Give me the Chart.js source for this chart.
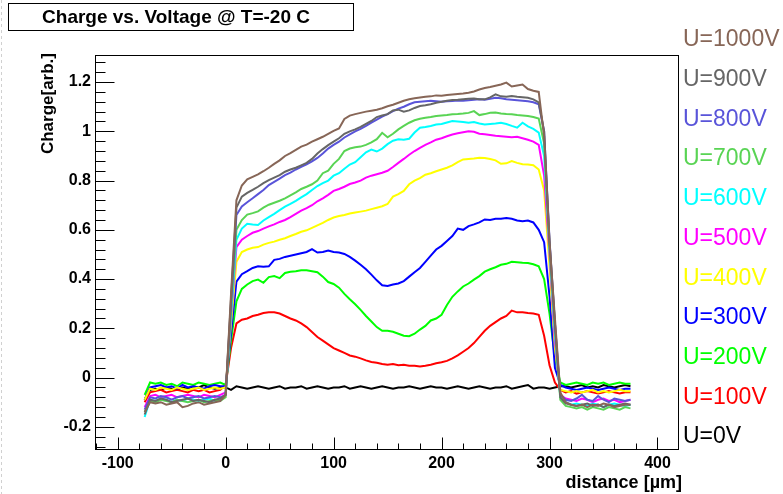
<!DOCTYPE html>
<html>
<head>
<meta charset="utf-8">
<title>Charge vs. Voltage</title>
<script src="https://cdn.jsdelivr.net/npm/chart.js@4.4.1/dist/chart.umd.min.js"></script>
<style>
  html, body { margin: 0; padding: 0; background: #fff; }
  #wrap { position: relative; width: 783px; height: 494px; }
</style>
</head>
<body>
<div id="wrap"><canvas id="cv"></canvas></div>
<script>
// -----------------------------------------------------------------------------
// DATA: charge profiles vs. distance, one series per bias voltage
// -----------------------------------------------------------------------------
const distance = [
  -75, -70, -65, -60, -55, -50, -45, -40, -35, -30,
  -25, -20, -15, -10, -5, 0, 5, 10, 15, 20,
  25, 30, 35, 40, 45, 50, 55, 60, 65, 70,
  75, 80, 85, 90, 95, 100, 105, 110, 115, 120,
  125, 130, 135, 140, 145, 150, 155, 160, 165, 170,
  175, 180, 185, 190, 195, 200, 205, 210, 215, 220,
  225, 230, 235, 240, 245, 250, 255, 260, 265, 270,
  275, 280, 285, 290, 295, 300, 305, 310, 315, 320,
  325, 330, 335, 340, 345, 350, 355, 360, 365, 370,
  375
];

const voltageLabels = ['U=0V', 'U=100V', 'U=200V', 'U=300V', 'U=400V', 'U=500V',
                       'U=600V', 'U=700V', 'U=800V', 'U=900V', 'U=1000V'];

const lineColors = ['#000000', '#ff0000', '#00ff00', '#0000ff', '#ffff00', '#ff00ff',
                    '#00ffff', '#59d454', '#5954d9', '#666666', '#876657'];

const charge0V = [
  -0.09, -0.05, -0.045, -0.05, -0.04, -0.045, -0.05, -0.04, -0.045, -0.035,
  -0.04, -0.03, -0.04, -0.045, -0.04, -0.04, -0.05, -0.035, -0.04, -0.045,
  -0.04, -0.035, -0.04, -0.045, -0.04, -0.035, -0.045, -0.04, -0.04, -0.035,
  -0.045, -0.04, -0.035, -0.04, -0.045, -0.04, -0.04, -0.035, -0.045, -0.04,
  -0.035, -0.04, -0.045, -0.04, -0.035, -0.04, -0.045, -0.04, -0.04, -0.035,
  -0.04, -0.045, -0.04, -0.035, -0.04, -0.04, -0.045, -0.04, -0.035, -0.04,
  -0.045, -0.04, -0.035, -0.04, -0.045, -0.04, -0.04, -0.035, -0.045, -0.04,
  -0.035, -0.03, -0.045, -0.04, -0.04, -0.045, -0.04, -0.035, -0.035, -0.04,
  -0.035, -0.03, -0.04, -0.035, -0.04, -0.03, -0.035, -0.04, -0.035, -0.03,
  -0.035
];

const charge100V = [
  -0.1, -0.06, -0.055, -0.05, -0.06, -0.055, -0.05, -0.055, -0.06, -0.05,
  -0.055, -0.05, -0.06, -0.055, -0.05, -0.03, 0.12, 0.22, 0.235, 0.24,
  0.25, 0.255, 0.262, 0.265, 0.265, 0.26, 0.25, 0.24, 0.232, 0.22,
  0.205, 0.185, 0.165, 0.15, 0.135, 0.12, 0.11, 0.1, 0.09, 0.085,
  0.078, 0.07, 0.063, 0.06, 0.055, 0.052, 0.055, 0.05, 0.052, 0.048,
  0.048, 0.045, 0.048, 0.052, 0.058, 0.062, 0.068, 0.078, 0.09, 0.105,
  0.12, 0.14, 0.165, 0.19, 0.21, 0.225, 0.24, 0.25, 0.272, 0.265,
  0.265, 0.262, 0.26, 0.255, 0.17, 0.05, -0.02, -0.05, -0.06, -0.055,
  -0.065, -0.06, -0.055, -0.06, -0.065, -0.06, -0.055, -0.06, -0.065, -0.06,
  -0.06
];

const charge200V = [
  -0.07, -0.02, -0.025, -0.02, -0.03, -0.025, -0.035, -0.02, -0.025, -0.03,
  -0.02, -0.025, -0.03, -0.025, -0.02, -0.03, 0.15, 0.31, 0.36, 0.378,
  0.392, 0.398, 0.385, 0.408, 0.412, 0.404, 0.425, 0.43, 0.432, 0.436,
  0.436, 0.432, 0.428, 0.41, 0.388, 0.38, 0.365, 0.34, 0.318, 0.298,
  0.275, 0.25, 0.228, 0.205, 0.19, 0.19, 0.186, 0.178, 0.17, 0.168,
  0.178, 0.195, 0.21, 0.232, 0.24, 0.255, 0.295, 0.328, 0.35, 0.37,
  0.382, 0.398, 0.412, 0.43, 0.44, 0.448, 0.458, 0.462, 0.47, 0.468,
  0.466, 0.465, 0.46, 0.452, 0.4, 0.26, 0.08, -0.02, -0.03, -0.025,
  -0.02, -0.025, -0.03, -0.02, -0.025, -0.02, -0.03, -0.025, -0.02, -0.025,
  -0.025
];

const charge300V = [
  -0.09, -0.04, -0.035, -0.03, -0.04, -0.035, -0.045, -0.03, -0.04, -0.035,
  -0.04, -0.045, -0.035, -0.03, -0.035, -0.035, 0.18, 0.39, 0.42, 0.432,
  0.445, 0.452, 0.45, 0.452, 0.478, 0.482, 0.49, 0.495, 0.5, 0.505,
  0.51, 0.522, 0.508, 0.51, 0.516, 0.51, 0.508, 0.502, 0.49, 0.475,
  0.458, 0.44, 0.418, 0.395, 0.375, 0.372, 0.378, 0.382, 0.392, 0.41,
  0.428, 0.445, 0.47, 0.495, 0.52, 0.535, 0.555, 0.575, 0.605, 0.6,
  0.615, 0.622, 0.63, 0.642, 0.64, 0.645, 0.645, 0.648, 0.645, 0.638,
  0.635, 0.638, 0.63, 0.6, 0.55, 0.33, 0.04, -0.03, -0.04, -0.045,
  -0.05, -0.045, -0.04, -0.045, -0.05, -0.045, -0.04, -0.045, -0.05, -0.045,
  -0.045
];

const charge400V = [
  -0.09, -0.045, -0.05, -0.04, -0.045, -0.05, -0.04, -0.045, -0.05, -0.045,
  -0.04, -0.05, -0.045, -0.04, -0.045, -0.04, 0.22, 0.47, 0.51, 0.52,
  0.527, 0.53, 0.54, 0.547, 0.552, 0.56, 0.566, 0.575, 0.583, 0.592,
  0.598, 0.608, 0.618, 0.628, 0.64, 0.65, 0.656, 0.66, 0.666, 0.67,
  0.674, 0.678, 0.684, 0.69, 0.696, 0.705, 0.735, 0.745, 0.758, 0.785,
  0.8, 0.81, 0.824, 0.83, 0.838, 0.845, 0.852, 0.862, 0.875, 0.886,
  0.888, 0.89, 0.893, 0.892, 0.888, 0.882, 0.868, 0.87, 0.879, 0.872,
  0.866, 0.865, 0.862, 0.845, 0.76, 0.45, 0.12, -0.05, -0.055, -0.06,
  -0.055, -0.06, -0.055, -0.05, -0.06, -0.055, -0.06, -0.055, -0.05, -0.055,
  -0.055
];

const charge500V = [
  -0.12, -0.075, -0.07, -0.08, -0.075, -0.07, -0.08, -0.075, -0.07, -0.075,
  -0.08, -0.07, -0.075, -0.08, -0.07, -0.06, 0.25, 0.53, 0.56, 0.575,
  0.588, 0.595, 0.605, 0.614, 0.622, 0.632, 0.64, 0.652, 0.665, 0.678,
  0.688, 0.7, 0.716, 0.728, 0.742, 0.758, 0.766, 0.775, 0.786, 0.792,
  0.8, 0.812, 0.82, 0.826, 0.832, 0.84, 0.855, 0.872, 0.888, 0.905,
  0.92, 0.933, 0.945, 0.955, 0.966, 0.972, 0.98, 0.987, 0.992, 0.996,
  1.0, 0.998, 0.99, 0.988, 0.985, 0.982, 0.98, 0.978, 0.976, 0.978,
  0.972, 0.966, 0.958, 0.945, 0.82, 0.5, 0.15, -0.07, -0.085, -0.09,
  -0.095, -0.085, -0.09, -0.1, -0.09, -0.085, -0.095, -0.09, -0.1, -0.095,
  -0.09
];

const charge600V = [
  -0.16, -0.09, -0.095, -0.085, -0.09, -0.1, -0.09, -0.095, -0.085, -0.09,
  -0.095, -0.09, -0.085, -0.095, -0.09, -0.07, 0.26, 0.56, 0.605, 0.625,
  0.622, 0.62, 0.638, 0.652, 0.665, 0.68, 0.694, 0.705, 0.718, 0.732,
  0.745, 0.762, 0.778, 0.79, 0.8, 0.82, 0.83, 0.848, 0.865, 0.875,
  0.895, 0.915, 0.926, 0.918, 0.93, 0.948, 0.962, 0.968, 0.966, 0.97,
  0.995, 1.015, 1.018, 1.022, 1.028, 1.03, 1.036, 1.042, 1.04, 1.038,
  1.035, 1.038, 1.032, 1.028, 1.03, 1.032, 1.035, 1.03, 1.022, 1.015,
  1.035, 1.02, 1.01, 0.995, 0.9, 0.52, 0.18, -0.08, -0.1, -0.11,
  -0.105, -0.11, -0.115, -0.105, -0.11, -0.12, -0.11, -0.105, -0.11, -0.115,
  -0.11
];

const charge700V = [
  -0.14, -0.095, -0.1, -0.09, -0.095, -0.1, -0.09, -0.095, -0.1, -0.095,
  -0.09, -0.1, -0.095, -0.09, -0.095, -0.08, 0.28, 0.6, 0.64, 0.662,
  0.668, 0.675, 0.69, 0.702, 0.71, 0.718, 0.728, 0.74, 0.752, 0.766,
  0.775, 0.785, 0.8, 0.83, 0.84, 0.868, 0.888, 0.92, 0.93, 0.935,
  0.938, 0.945, 0.955, 0.968, 0.994, 0.976, 0.99, 1.008, 1.022, 1.035,
  1.045, 1.051, 1.055, 1.058, 1.062, 1.064, 1.066, 1.069, 1.07, 1.072,
  1.075, 1.082, 1.066, 1.07, 1.075, 1.076, 1.072, 1.07, 1.069, 1.066,
  1.064, 1.062, 1.058, 1.052, 0.95, 0.53, 0.2, -0.09, -0.115, -0.12,
  -0.125, -0.12, -0.13, -0.12, -0.125, -0.13, -0.12, -0.125, -0.13, -0.12,
  -0.125
];

const charge800V = [
  -0.13, -0.08, -0.085, -0.075, -0.08, -0.09, -0.08, -0.075, -0.085, -0.08,
  -0.075, -0.085, -0.08, -0.075, -0.08, -0.07, 0.3, 0.66, 0.695, 0.712,
  0.728, 0.745, 0.762, 0.782, 0.795, 0.808, 0.822, 0.832, 0.845, 0.856,
  0.866, 0.878, 0.892, 0.91, 0.93, 0.945, 0.958, 0.975, 0.988, 1.0,
  1.01, 1.022, 1.035, 1.048, 1.06, 1.07, 1.082, 1.092, 1.1, 1.11,
  1.118, 1.12, 1.122, 1.124, 1.122, 1.12, 1.122, 1.123, 1.125, 1.124,
  1.126, 1.128, 1.13, 1.128, 1.132, 1.136, 1.134, 1.13, 1.128, 1.126,
  1.124, 1.122, 1.118, 1.11, 1.0, 0.56, 0.22, -0.07, -0.09, -0.095,
  -0.085, -0.07, -0.09, -0.095, -0.075, -0.09, -0.1, -0.085, -0.09, -0.095,
  -0.09
];

const charge900V = [
  -0.15, -0.09, -0.095, -0.085, -0.09, -0.1, -0.095, -0.09, -0.085, -0.095,
  -0.09, -0.095, -0.1, -0.09, -0.085, -0.07, 0.32, 0.69, 0.735, 0.75,
  0.762, 0.775, 0.79, 0.802, 0.812, 0.822, 0.836, 0.845, 0.852, 0.862,
  0.872, 0.888, 0.91, 0.928, 0.944, 0.958, 0.972, 0.99, 1.0, 1.008,
  1.018, 1.03, 1.042, 1.058, 1.064, 1.07, 1.085, 1.088, 1.08, 1.085,
  1.095, 1.103, 1.106, 1.11, 1.116, 1.12, 1.124, 1.127, 1.128, 1.13,
  1.132, 1.133, 1.13, 1.13, 1.138, 1.15, 1.142, 1.14, 1.143, 1.14,
  1.138, 1.136, 1.13, 1.118, 1.0, 0.55, 0.22, -0.08, -0.105, -0.11,
  -0.115, -0.11, -0.105, -0.115, -0.11, -0.12, -0.11, -0.115, -0.11, -0.105,
  -0.11
];

const charge1000V = [
  -0.14, -0.1, -0.105, -0.1, -0.11, -0.105, -0.1, -0.12, -0.115, -0.105,
  -0.1, -0.11, -0.105, -0.1, -0.095, -0.07, 0.34, 0.72, 0.78, 0.805,
  0.815, 0.825, 0.838, 0.852, 0.868, 0.882, 0.9, 0.912, 0.925, 0.938,
  0.946, 0.958, 0.968, 0.978, 0.99, 1.002, 1.012, 1.05, 1.064, 1.07,
  1.075, 1.08, 1.084, 1.088, 1.094, 1.102, 1.108, 1.116, 1.124, 1.13,
  1.134, 1.137, 1.14, 1.142, 1.146, 1.145, 1.148, 1.15, 1.152, 1.154,
  1.157, 1.162, 1.17, 1.176, 1.18, 1.185, 1.19, 1.198, 1.182, 1.186,
  1.19, 1.172, 1.165, 1.16, 0.98, 0.55, 0.24, -0.06, -0.1, -0.11,
  -0.115, -0.11, -0.12, -0.11, -0.115, -0.105, -0.11, -0.12, -0.115, -0.11,
  -0.11
];

const chargeSeries = [charge0V, charge100V, charge200V, charge300V, charge400V, charge500V,
                      charge600V, charge700V, charge800V, charge900V, charge1000V];

const xTickValues = [-100, 0, 100, 200, 300, 400];
const yTickValues = [-0.2, 0, 0.2, 0.4, 0.6, 0.8, 1, 1.2];

const FONT = 'Arial, "Liberation Sans", Helvetica, sans-serif';

// -----------------------------------------------------------------------------
// FRAME, INWARD TICKS, TITLES AND VOLTAGE LABELS (ROOT-like canvas look)
// -----------------------------------------------------------------------------
const rootStyle = {
  id: 'rootStyle',
  afterDraw(chart) {
    const { ctx, chartArea: a, scales: { x, y } } = chart;
    ctx.save();

    // faint dotted canvas edge on the left
    ctx.strokeStyle = '#d0d0d0';
    ctx.lineWidth = 1;
    ctx.setLineDash([3, 3]);
    ctx.beginPath();
    ctx.moveTo(1.5, 0);
    ctx.lineTo(1.5, 494);
    ctx.stroke();
    ctx.setLineDash([]);

    // frame
    ctx.strokeStyle = '#000';
    ctx.lineWidth = 1;
    const L = Math.round(a.left) + 0.5, R = Math.round(a.right) + 0.5;
    const T = Math.round(a.top) + 0.5, B = Math.round(a.bottom) + 0.5;
    ctx.strokeRect(L, T, R - L, B - T);

    // x ticks, pointing up into the frame
    ctx.beginPath();
    for (let v = -120; v <= 419; v += 20) {
      const px = Math.round(x.getPixelForValue(v)) + 0.5;
      if (px <= L || px >= R) continue;
      const len = v % 100 === 0 ? 12 : 6;
      ctx.moveTo(px, B);
      ctx.lineTo(px, B - len);
    }
    // y ticks, pointing right into the frame
    for (let k = -7; k <= 32; k++) {
      const py = Math.round(y.getPixelForValue(k * 0.04)) + 0.5;
      if (py <= T || py >= B) continue;
      const len = k % 5 === 0 ? 19 : 10;
      ctx.moveTo(L, py);
      ctx.lineTo(L + len, py);
    }
    ctx.stroke();

    // axis titles
    ctx.fillStyle = '#000';
    ctx.font = 'bold 18px ' + FONT;
    ctx.textAlign = 'right';
    ctx.textBaseline = 'middle';
    ctx.fillText('distance [\u00b5m]', 682, 483);

    ctx.save();
    ctx.translate(48, 53);
    ctx.rotate(-Math.PI / 2);
    ctx.font = 'bold 17px ' + FONT;
    ctx.textAlign = 'right';
    ctx.fillText('Charge[arb.]', 0, 0);
    ctx.restore();

    // title box
    ctx.fillStyle = '#fff';
    ctx.fillRect(8.5, 3.5, 345, 27);
    ctx.strokeRect(8.5, 3.5, 345, 27);
    ctx.fillStyle = '#000';
    ctx.font = 'bold 19px ' + FONT;
    ctx.textAlign = 'center';
    ctx.fillText('Charge vs. Voltage @ T=-20 C', 176, 17.5);

    // voltage labels down the right margin, highest first
    ctx.font = '23px ' + FONT;
    ctx.textAlign = 'left';
    for (let i = voltageLabels.length - 1, row = 0; i >= 0; i--, row++) {
      ctx.fillStyle = lineColors[i];
      ctx.fillText(voltageLabels[i], 683, 40 + row * 39.7);
    }
    ctx.restore();
  }
};

const datasets = chargeSeries.map((vals, i) => ({
  label: voltageLabels[i],
  data: vals.map((v, j) => ({ x: distance[j], y: v })),
  borderColor: lineColors[i],
  backgroundColor: lineColors[i],
  borderWidth: 2,
  showLine: true,
  pointRadius: 0,
  tension: 0,
  fill: false,
  order: chargeSeries.length - i   // higher voltages drawn on top
}));

new Chart(document.getElementById('cv'), {
  type: 'scatter',
  data: { datasets },
  options: {
    responsive: true,
    maintainAspectRatio: false,
    animation: false,
    layout: { padding: { left: 0, right: 105, top: 55, bottom: 0 } },
    plugins: { legend: { display: false }, tooltip: { enabled: false } },
    scales: {
      x: {
        type: 'linear',
        min: -121,
        max: 419,
        afterFit(s) { s.height = 45; },
        afterBuildTicks(s) { s.ticks = xTickValues.map(v => ({ value: v })); },
        ticks: {
          color: '#000',
          font: { family: FONT, size: 16, weight: 'bold' },
          padding: 5,
          maxRotation: 0,
          callback: v => String(v)
        },
        grid: { display: false, drawTicks: false },
        border: { display: false }
      },
      y: {
        type: 'linear',
        min: -0.29,
        max: 1.31,
        afterFit(s) { s.width = 95; },
        afterBuildTicks(s) { s.ticks = yTickValues.map(v => ({ value: v })); },
        ticks: {
          color: '#000',
          font: { family: FONT, size: 16, weight: 'bold' },
          padding: 4,
          callback: v => String(+v.toFixed(1))
        },
        grid: { display: false, drawTicks: false },
        border: { display: false }
      }
    }
  },
  plugins: [rootStyle]
});
</script>
</body>
</html>
